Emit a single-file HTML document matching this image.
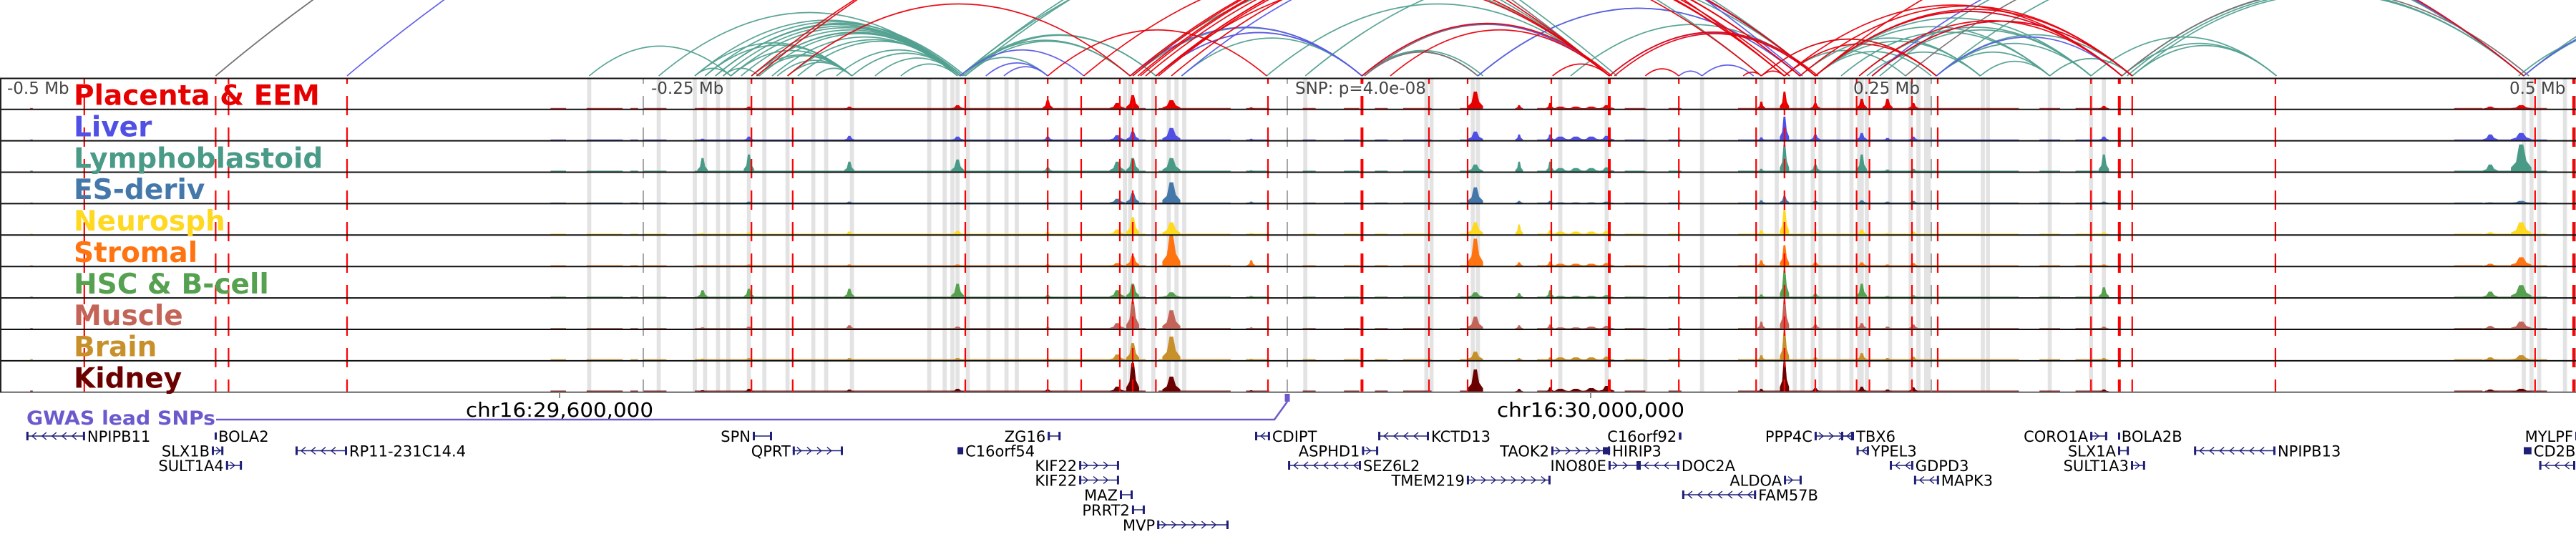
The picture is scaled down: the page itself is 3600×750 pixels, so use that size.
<!DOCTYPE html>
<html><head><meta charset="utf-8">
<style>
html,body{margin:0;padding:0;background:#fff;}
svg{display:block;}
text{font-family:"DejaVu Sans","Liberation Sans",sans-serif;}
</style></head>
<body>
<svg id="chart" width="3600" height="750" viewBox="0 0 3600 750" xmlns="http://www.w3.org/2000/svg">
<defs>
<clipPath id="arcClip"><rect x="0" y="0" width="3600" height="107"/></clipPath>
<clipPath id="trackClip"><rect x="0" y="109" width="3600" height="440"/></clipPath>
</defs>
<g id="bands"></g>
<g id="signals"></g>
<g id="vlines" clip-path="url(#trackClip)"></g>
<g id="frame"></g>
<g id="arcs" clip-path="url(#arcClip)"></g>
<g id="labels"></g>
<g id="genes"></g>
</svg>
<script>
// ---- data (positions in kb relative to lead SNP) ----
const trackNames = ["Placenta & EEM","Liver","Lymphoblastoid","ES-deriv","Neurosph","Stromal","HSC & B-cell","Muscle","Brain","Kidney"];
const trackColors = ["#e60000","#5050e6","#4a9a88","#4477aa","#ffd820","#ff7410","#55a150","#c46459","#c8902a","#6b0000"];
const axisTicksKb = [-500,-250,0,250,500];
const axisTickLabels = ["-0.5 Mb","-0.25 Mb","SNP: p=4.0e-08","0.25 Mb","0.5 Mb"];
const snpLinesKb = [-467,-416,-411,-365,-208,-192,-125,-93,-80,-65,-60,-51,-7.5,29,55,70,102.5,125,152,182,193,205,221,226,242.5,252.5,312,323,328,383.6,484.4,499.4];
const thickLinesKb = [29,125,323,499.4];
const bandsKb = [-271,-244,-230,-226,-221,-217,-209,-203,-194,-184,-179,-169,-139,-133,-130,-128,-124,-116,-109,-105,-86,-63,-61,-57,-52,-46,-43,-40,7,54,56,72,74,106,124,139,161,184,190,197,200,204,207,214,219,222,223,225,234,242,245,248,249,270,272,296,312,317,480,483,486,496];
const bandWidthsKb = [];
const segStartKb = [-488,-286,-272,-255,-250,-230,-50,-16,6,22,34,45,67,97,131,148,175,250,292,306,453,465];
const segEndKb   = [-487,-280,-258,-252,-241,-55,-22,-7,11,28,39,56,75,103,139,153,250,284,300,318,464,489];
const baseLevel = [1.1,1.1,1.4,0.8,1.2,1,1.1,1.2,1.5,1.5];
const peakKb = [-227,-209,-170,-128,-93,-66,-60,-45,-14,73,90,102,106,112,118,124,193,184,205,223,233,243,317,479,467];
const peakWidthKb = [2,2,2,2.5,2,3,2.5,3.5,1.5,3,1.5,1.5,4,4,4,3,1.8,1.5,2,2,2,2,2,4,3];
const peakPlacenta = [1,3,3,5,12,8,19,12,2,24,5,8,3,3,3,5,24,10,8,14,14,8,4,5,3];
const peakLiver    = [2,5,6,5,5,7,12,17,2,12,8,8,5,5,5,6,33,4,8,10,3,5,5,10,8];
const peakLympho   = [19,24,14,17,6,14,19,19,2,10,14,14,5,5,5,6,38,4,10,24,3,4,24,38,10];
const peakES       = [1,2,2,1,1,6,14,29,2,22,3,3,1,1,1,2,10,4,3,4,2,3,2,3,1];
const peakNeuro    = [2,3,4,5,3,7,24,17,2,17,14,6,4,4,4,5,36,6,3,7,2,4,3,17,3];
const peakStromal  = [1,2,2,2,2,4,14,43,8,38,5,6,3,3,3,4,29,8,5,5,2,4,2,12,3];
const peakHSC      = [10,12,12,19,3,10,19,7,2,7,6,10,2,2,2,3,38,4,5,19,2,3,14,17,8];
const peakMuscle   = [2,3,5,3,2,8,38,26,2,17,5,6,2,2,3,4,40,10,6,8,3,6,3,10,4];
const peakBrain    = [2,3,3,3,2,8,24,33,2,12,3,4,4,4,4,5,40,7,4,10,3,5,3,7,4];
const peakKidney   = [2,4,3,4,3,7,40,21,2,31,4,6,4,4,5,8,43,4,5,7,3,6,3,4,3];
const peakHeights = [peakPlacenta,peakLiver,peakLympho,peakES,peakNeuro,peakStromal,peakHSC,peakMuscle,peakBrain,peakKidney];

const tealArcs = [[-416,128],[-271,-216],[-244,-127],[-230,-127],[-226,-126],[-222,-125],[-219,-127],[-216,-127],[-208,-127],[-208,-128],[-205,-127],[-208,-169],[-206,-169],[-216,-169],[-194,-169],[-183,-169],[-169,-127],[-194,-127],[-190,-126],[-127,-93],[-127,-61],[-125,-61],[-127,-51],[-126,-51],[-127,125],[-127,205],[-125,184],[-41,29],[-8,125],[7,205],[29,74],[29,76],[74,199],[110,205],[205,312],[205,296],[222,312],[227,312],[252,312],[269,296],[252,296],[296,328],[199,269],[205,269],[252,328],[328,384],[324,384],[312,384],[324,480],[326,480],[328,480],[252,480],[230,480],[480,584],[480,667],[478,560],[184,252],[193,240],[-61,125],[-60,29],[-230,-169],[-226,-169],[-222,-127],[-212,-127],[-200,-128],[-175,-127],[-219,-205],[-230,-216],[-198,-169],[-160,-127],[-150,-128],[205,250],[215,296],[225,269]];
const redArcs = [[-208,125],[-206,193],[-194,-61],[-61,193],[-60,195],[-58,199],[-57,205],[-55,184],[-51,205],[-51,199],[-50,193],[-79,125],[-93,-8],[29,126],[40,125],[103,125],[125,206],[127,205],[139,152],[177,184],[184,193],[184,252],[193,252],[193,324],[199,328],[205,328],[205,324],[222,324],[227,328],[205,480],[-51,125],[-45,193]];
const blueArcs = [[-365,200],[-127,-79],[-117,-93],[-110,-93],[-51,29],[-61,29],[-41,205],[29,125],[125,205],[74,199],[152,161],[161,181],[205,324],[227,328],[252,324],[227,480],[480,600]];
const grayArcs = [[-416,125],[-51,29],[30,125],[30,74],[324,482],[240,480]];

const geneNames = ["NPIPB11","BOLA2","SPN","ZG16","CDIPT","KCTD13","C16orf92","PPP4C","TBX6","CORO1A","BOLA2B","MYLPF","SLX1B","QPRT","RP11-231C14.4","C16orf54","ASPHD1","TAOK2","HIRIP3","YPEL3","SLX1A","NPIPB13","CD2BP2","SULT1A4","KIF22","SEZ6L2","INO80E","DOC2A","GDPD3","SULT1A3","","KIF22","TMEM219","ALDOA","MAPK3","MAZ","FAM57B","PRRT2","MVP"];
const geneStart = [-489.5,-416.4,-207.5,-93,-12.5,35.3,152,204.7,215,311.7,322.5,500,-417.5,-192,-385,-128,29,102.5,122.5,221,322.5,352,480,-412,-80.8,0.3,124.7,136.4,233.9,327.5,486,-80.8,69.7,192.8,243.3,-65,153.3,-60.3,-50.5];
const geneEnd   = [-466.7,-415.8,-200,-88,-6.7,55,153,219.7,220,318.3,323,505,-413,-172.5,-365,-125.8,35.3,125.3,125.3,225.8,326.7,383.6,483,-405.8,-65.3,28.6,136.4,152.2,243,333,500,-65.3,102.2,199.7,253,-60,182,-55.3,-22.8];
const geneRow   = [0,0,0,0,0,0,0,0,0,0,0,0,1,1,1,1,1,1,1,1,1,1,1,2,2,2,2,2,2,2,2,3,3,3,3,4,4,5,6];
const geneStrand= [-1,0,0,0,-1,-1,0,1,-1,1,0,0,1,1,-1,0,1,1,0,-1,1,-1,0,1,1,-1,1,-1,-1,1,-1,1,1,1,-1,0,-1,0,1];
const geneLabelLeft=[0,0,1,1,0,0,1,1,0,1,0,1,1,1,0,0,1,1,0,0,1,0,0,1,1,0,1,0,0,1,0,1,1,1,0,1,0,1,1];

// ---- scales ----
const SNPX = 1799, PXKB = 3.6;
const X = kb => SNPX + kb*PXKB;
const TRACK_TOP = 109.5, TRACK_H = 43.9;
const trackTop = i => TRACK_TOP + i*TRACK_H;
const trackBase = i => TRACK_TOP + (i+1)*TRACK_H - 1.5;
const NS = "http://www.w3.org/2000/svg";
function mk(tag, attrs, parent){const e=document.createElementNS(NS,tag);for(const k in attrs)e.setAttribute(k,attrs[k]);parent.appendChild(e);return e;}

const gB = document.getElementById('bands');
bandsKb.forEach((kb,i)=>{
  const w = (bandWidthsKb[i]||1.6)*PXKB;
  const r = mk('rect',{x:X(kb)-w/2,y:109,width:w,height:439,fill:'#e3e3e3'},gB);
  
  
});

const gS = document.getElementById('signals');
trackNames.forEach((name,t)=>{
  const g = mk('g',{},gS);
  
  
  const base = trackBase(t), col = trackColors[t];
  segStartKb.forEach((s,i)=>{
    const x0=X(s), x1=X(segEndKb[i]);
    const r = mk('rect',{x:x0,y:base-baseLevel[t],width:Math.max(1,x1-x0),height:baseLevel[t],fill:col,opacity:0.85},g);
    
    
  });
  peakKb.forEach((p,i)=>{
    const h = peakHeights[t][i], w = peakWidthKb[i]*PXKB, x=X(p);
    const pts = [[x-w,base],[x-w,base-h*0.15],[x-w*0.5,base-h*0.35],[x-w*0.2,base-h],[x+w*0.2,base-h],[x+w*0.5,base-h*0.4],[x+w,base-h*0.15],[x+w,base]];
    const pg = mk('polygon',{points:pts.map(q=>q.join(',')).join(' '),fill:col},g);
    
    
  });
});

const gV = document.getElementById('vlines');
axisTicksKb.forEach(kb=>{
  const l = mk('line',{x1:X(kb),x2:X(kb),y1:90,y2:548,stroke:'#8a8a8a','stroke-width':1.5,'stroke-dasharray':'27 17'},gV);
  
  
});
snpLinesKb.forEach(kb=>{
  const thick = thickLinesKb.includes(kb);
  const l = mk('line',{x1:X(kb),x2:X(kb),y1:90,y2:548,stroke:'#ff0000','stroke-width':thick?4:2.2,'stroke-dasharray':'27 17'},gV);
  
  
});

const gF = document.getElementById('frame');
for(let i=0;i<=10;i++){
  const y = i===0?109.5:trackBase(i-1)+0.8;
  const l = mk('line',{x1:0,x2:3600,y1:y,y2:y,stroke:i===10?'#666':'#111','stroke-width':2},gF);
  
  
}
const lv = mk('line',{x1:1,x2:1,y1:109,y2:548,stroke:'#222','stroke-width':2},gF);



const gA = document.getElementById('arcs');
const AB = 106;
function drawArcs(list,color,name){
  list.forEach(a=>{
    const x1=X(a[0]), x2=X(a[1]), span=Math.abs(x2-x1), h=0.21*span;
    const p = mk('path',{d:`M${x1},${AB} Q${(x1+x2)/2},${AB-2*h} ${x2},${AB}`,fill:'none',stroke:color,'stroke-width':1.7,opacity:0.95},gA);
    
    
  });
}
drawArcs(tealArcs,'#52a090','teal-arc');
drawArcs(grayArcs,'#7a6e72','gray-arc');
drawArcs(blueArcs,'#5a5ae8','blue-arc');
drawArcs(redArcs,'#e8000b','red-arc');

const gL = document.getElementById('labels');
trackNames.forEach((n,i)=>{
  const t = mk('text',{x:103,y:trackTop(i)+37,fill:trackColors[i],'font-size':39,'font-weight':'bold'},gL);
  t.textContent = n;
  
  
});
const tickX = [10,910,1810,2590,3507];
axisTickLabels.forEach((s,i)=>{
  const t = mk('text',{x:tickX[i],y:131,fill:'#444','font-size':23},gL);
  t.textContent = s;
  
  
});
[[782,'chr16:29,600,000'],[2223,'chr16:30,000,000']].forEach(c=>{
  const tk = mk('line',{x1:c[0],x2:c[0],y1:549,y2:556,stroke:'#666','stroke-width':1.5},gL);
  
  
  const t = mk('text',{x:c[0],y:582,'font-size':28,'text-anchor':'middle',fill:'#000',textLength:262,lengthAdjust:'spacingAndGlyphs'},gL);
  t.textContent=c[1];
  
  
});
const gw = mk('text',{x:37,y:593,'font-size':27,'font-weight':'bold',fill:'#6a5acd',textLength:264,lengthAdjust:'spacingAndGlyphs'},gL);
gw.textContent='GWAS lead SNPs';


const gp = mk('polyline',{points:`302,586 ${X(-5)},586 ${X(0)},561`,fill:'none',stroke:'#6a5acd','stroke-width':2.5},gL);


const gm = mk('rect',{x:X(0)-3.5,y:550,width:7,height:11,fill:'#6a5acd'},gL);



const gG = document.getElementById('genes');
const rowY = [609,629.5,650,670.5,691,712,733];
geneNames.forEach((n,i)=>{
  const g = mk('g',{},gG);
  
  
  const y = rowY[geneRow[i]], x0=X(geneStart[i]), x1=X(geneEnd[i]), col='#1f1f78';
  if(x1-x0 < 12){
    mk('rect',{x:x0,y:y-5,width:Math.max(3,x1-x0),height:10,fill:col},g);
  } else {
    mk('line',{x1:x0,x2:x1,y1:y,y2:y,stroke:col,'stroke-width':1.6},g);
    mk('rect',{x:x0,y:y-6,width:3,height:12,fill:col},g);
    mk('rect',{x:x1-3,y:y-6,width:3,height:12,fill:col},g);
    const s = geneStrand[i];
    for(let xx=x0+10; xx<x1-6; xx+=14){
      if(s===0) break;
      const d = s>0 ? `M${xx-4},${y-5} L${xx+2},${y} L${xx-4},${y+5}` : `M${xx+4},${y-5} L${xx-2},${y} L${xx+4},${y+5}`;
      mk('path',{d:d,fill:'none',stroke:col,'stroke-width':1.4},g);
    }
  }
  if(n){
    const left = geneLabelLeft[i]===1;
    const t = mk('text',{x:left?x0-3:x1+3,y:y+8,'font-size':21,'text-anchor':left?'end':'start',fill:'#000'},g);
    t.textContent=n;
  }
});
</script>
</body></html>
